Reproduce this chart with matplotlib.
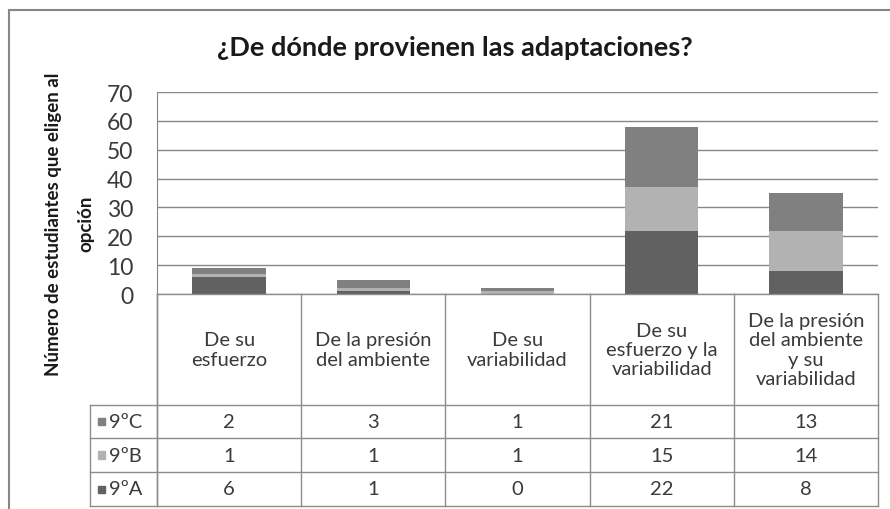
import matplotlib.pyplot as plt
from matplotlib.lines import Line2D
from matplotlib.patches import Rectangle
from matplotlib.transforms import blended_transform_factory
import numpy as np

plt.rcParams['font.family'] = ['Lato', 'DejaVu Sans']

categorias = ["De su\nesfuerzo", "De la presión\ndel ambiente", "De su\nvariabilidad",
              "De su\nesfuerzo y la\nvariabilidad", "De la presión\ndel ambiente\ny su\nvariabilidad"]
grupos = ["9ºA", "9ºB", "9ºC"]
valores_9A = [6, 1, 0, 22, 8]
valores_9B = [1, 1, 1, 15, 14]
valores_9C = [2, 3, 1, 21, 13]
colores = ["#616161", "#b2b2b2", "#808080"]

W, H = 890, 510
fig = plt.figure(figsize=(W / 100, H / 100), dpi=100)

def fx(px):
    return px / W

def fy(py):
    return 1 - py / H

texto = "#3a3a3a"

# marco exterior del grafico
fig.add_artist(Rectangle((fx(9), fy(515)), fx(890), fy(11) - fy(515), transform=fig.transFigure,
                         fill=False, edgecolor="#868686", lw=1.5))

fig.text(fx(455), fy(48), "¿De dónde provienen las adaptaciones?", ha="center", va="center",
         fontsize=19.5, fontweight="bold", color="#1a1a1a")

top, cero, izq, der = 93, 295, 157, 878
ax = fig.add_axes([fx(izq), fy(cero), fx(der - izq), fy(top) - fy(cero)])

x = np.arange(len(categorias))
series = [valores_9A, valores_9B, valores_9C]
base = np.zeros(len(categorias))
for vals, col in zip(series, colores):
    ax.bar(x, vals, width=0.51, bottom=base, color=col, zorder=3)
    base += np.array(vals)

ax.set_xlim(-0.5, len(categorias) - 0.5)
ax.set_ylim(0, 70)
ax.set_yticks(range(0, 71, 10))
ax.yaxis.grid(True, color="#868686", lw=1)
ax.set_axisbelow(True)
for s in ["top", "right", "bottom"]:
    ax.spines[s].set_visible(False)
ax.spines["left"].set_color("#868686")
ax.set_xticks([])
ax.tick_params(axis="y", length=0, pad=17, labelsize=16.5, labelcolor=texto)

fig.text(fx(54), fy(224), "Número de estudiantes que eligen al", rotation=90, ha="center",
         va="center", fontsize=13.5, fontweight="bold", color="#1a1a1a")
fig.text(fx(86), fy(224), "opción", rotation=90, ha="center", va="center",
         fontsize=13.5, fontweight="bold", color="#1a1a1a")

# tabla de datos bajo el eje
tr = blended_transform_factory(ax.transData, fig.transFigure)
linea = "#8c8c8c"
filas = [cero, 406, 439, 473, 507]
leg_izq = 90
for i, yp in enumerate(filas):
    x0 = izq if i == 0 else leg_izq
    fig.add_artist(Line2D([fx(x0), fx(der)], [fy(yp), fy(yp)], transform=fig.transFigure,
                          color=linea, lw=1))
fig.add_artist(Line2D([fx(leg_izq), fx(leg_izq)], [fy(406), fy(507)], transform=fig.transFigure,
                      color=linea, lw=1))
fig.add_artist(Line2D([fx(izq), fx(izq)], [fy(cero), fy(507)], transform=fig.transFigure,
                      color=linea, lw=1))
for b in np.arange(len(categorias) + 1) - 0.5:
    fig.add_artist(Line2D([b, b], [fy(cero), fy(507)], transform=tr, color=linea, lw=1))

for xi, cat in zip(x, categorias):
    fig.text(xi, fy((cero + 406) / 2), cat, transform=tr, ha="center", va="center",
             fontsize=14.5, color=texto, linespacing=1.15)

orden = [2, 1, 0]
for r, gi in enumerate(orden):
    yc = (filas[r + 1] + filas[r + 2]) / 2
    fig.add_artist(Rectangle((fx(98), fy(yc + 3.5)), fx(7), fy(yc - 3.5) - fy(yc + 3.5),
                             transform=fig.transFigure, color=colores[gi]))
    fig.text(fx(109), fy(yc), grupos[gi], ha="left", va="center", fontsize=14.5, color=texto)
    for xi, v in zip(x, series[gi]):
        fig.text(xi, fy(yc), str(v), transform=tr, ha="center", va="center",
                 fontsize=14.5, color=texto)

fig.savefig("out.png", dpi=100)
